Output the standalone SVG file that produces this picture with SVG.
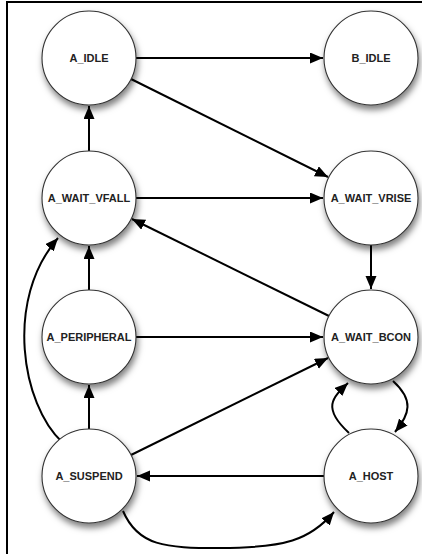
<svg xmlns="http://www.w3.org/2000/svg" width="422" height="554" viewBox="0 0 422 554">
  <style>
    .state circle { fill: #ffffff; stroke: #333333; stroke-width: 1.1; filter: url(#shadow); }
    .state text { font-family: "Liberation Sans", Arial, Helvetica, sans-serif; font-weight: bold; font-size: 11px; fill: #222222; text-anchor: middle; }
    .edge { fill: none; stroke: #000000; stroke-width: 2; marker-end: url(#arrow); }
    .frame { fill: none; stroke: #000000; stroke-width: 2; }
  </style>
  <defs>
    <filter id="shadow" x="-30%" y="-30%" width="160%" height="170%">
      <feDropShadow dx="1.5" dy="4.5" stdDeviation="3.2" flood-color="#000000" flood-opacity="0.5"/>
    </filter>
    <marker id="arrow" markerUnits="userSpaceOnUse" markerWidth="15" markerHeight="12" refX="13" refY="5.5" orient="auto">
      <path d="M0,0 L13,5.5 L0,11 z" fill="#000000"/>
    </marker>
  </defs>

  <rect width="422" height="554" fill="#ffffff"/>
  <!-- outer frame -->
  <path class="frame" d="M7,560 L7,2 L430,2"/>

  <g id="connectors">
    <!-- straight transitions -->
    <path class="edge" d="M136,58 L323,58"/>
    <path class="edge" d="M131,79 L328,177"/>
    <path class="edge" d="M89,151 L89,106"/>
    <path class="edge" d="M136,198 L323,198"/>
    <path class="edge" d="M371,245 L371,289"/>
    <path class="edge" d="M329,316 L132,219"/>
    <path class="edge" d="M89,290 L89,246"/>
    <path class="edge" d="M136,337 L323,337"/>
    <path class="edge" d="M89,429 L89,385"/>
    <path class="edge" d="M131,455 L328,358"/>
    <path class="edge" d="M324,476 L137,476"/>
    <!-- curved transitions -->
    <path class="edge" d="M62,442 C22,405 4,300 58,238"/>
    <path class="edge" d="M123,511 C138,546 165,548 220,548 C285,548 310,540 334,512"/>
    <path class="edge" d="M349,433 C322,408 332,398 348,383"/>
    <path class="edge" d="M393,381 C414,400 410,414 395,432"/>
  </g>

  <g id="A_IDLE" class="state">
    <circle cx="89" cy="58" r="47"/>
    <text x="89" y="62">A_IDLE</text>
  </g>
  <g id="B_IDLE" class="state">
    <circle cx="371" cy="58" r="47"/>
    <text x="371" y="62">B_IDLE</text>
  </g>
  <g id="A_WAIT_VFALL" class="state">
    <circle cx="89" cy="198" r="47"/>
    <text x="89" y="202">A_WAIT_VFALL</text>
  </g>
  <g id="A_WAIT_VRISE" class="state">
    <circle cx="371" cy="198" r="47"/>
    <text x="371" y="202">A_WAIT_VRISE</text>
  </g>
  <g id="A_PERIPHERAL" class="state">
    <circle cx="89" cy="337" r="47"/>
    <text x="89" y="341">A_PERIPHERAL</text>
  </g>
  <g id="A_WAIT_BCON" class="state">
    <circle cx="371" cy="337" r="47"/>
    <text x="371" y="341">A_WAIT_BCON</text>
  </g>
  <g id="A_SUSPEND" class="state">
    <circle cx="89" cy="476" r="47"/>
    <text x="89" y="480">A_SUSPEND</text>
  </g>
  <g id="A_HOST" class="state">
    <circle cx="371" cy="476" r="47"/>
    <text x="371" y="480">A_HOST</text>
  </g>
</svg>
